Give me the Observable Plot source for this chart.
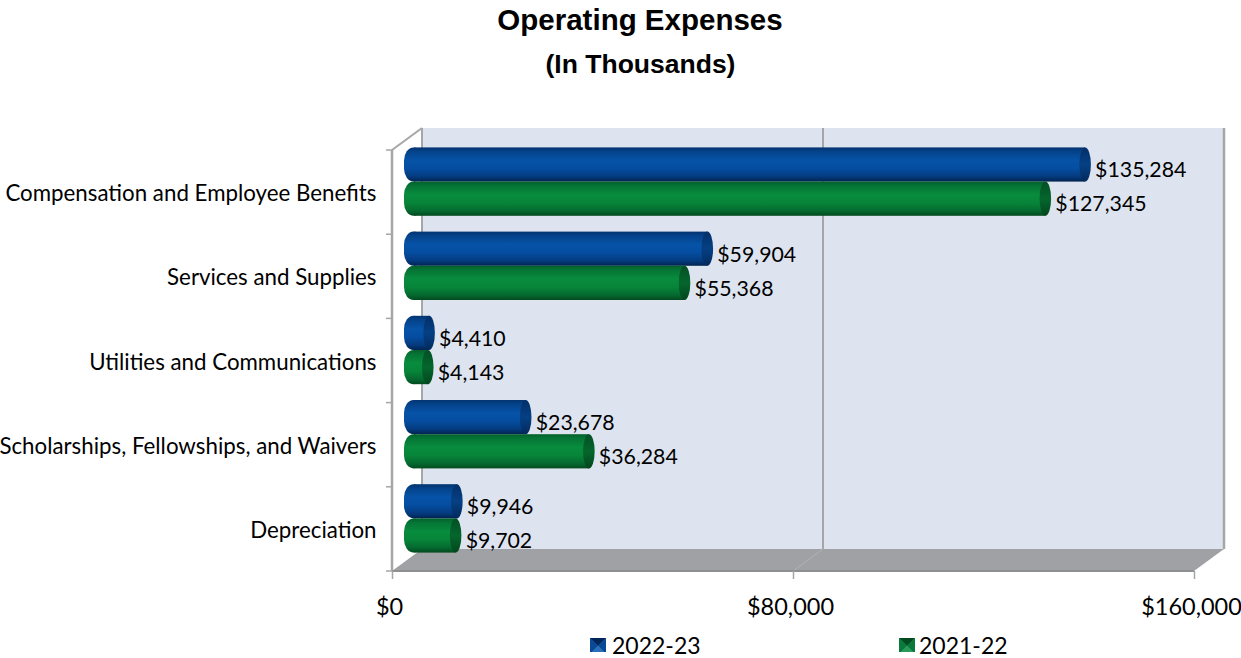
<!DOCTYPE html>
<html>
<head>
<meta charset="utf-8">
<script src="https://cdn.jsdelivr.net/npm/d3@7"></script>
<script src="https://cdn.jsdelivr.net/npm/@observablehq/plot@0.6"></script>
<style>
html,body{margin:0;padding:0;background:#fff;overflow:hidden;}
#page{position:relative;width:1241px;height:658px;overflow:hidden;}
#head{height:100px;position:relative;font-family:"Liberation Sans",Arial,sans-serif;font-weight:bold;text-align:center;color:#000;}
#head .t{position:absolute;left:0;width:1280px;top:4px;font-size:29.5px;line-height:32px;}
#head .s{position:absolute;left:0;width:1281px;top:50px;font-size:26.5px;line-height:28px;}
#chart svg{display:block;}
#legend{position:absolute;top:630px;left:0;width:1241px;height:28px;font-family:Lato,sans-serif;font-size:23px;line-height:28px;color:#000;}
#legend span.k{position:absolute;top:8px;width:16px;height:14px;}
#legend span.l{position:absolute;top:1px;white-space:nowrap;}
</style>
</head>
<body>
<div id="page">
  <div id="head"><div class="t" id="title"></div><div class="s" id="subtitle"></div></div>
  <div id="chart"></div>
  <div id="legend"></div>
</div>
<script>
const titleText = "Operating Expenses";
const subtitleText = "(In Thousands)";
const categories = ["Compensation and Employee Benefits","Services and Supplies","Utilities and Communications","Scholarships, Fellowships, and Waivers","Depreciation"];
const series = ["2022-23","2021-22"];
const values2022 = [135284,59904,4410,23678,9946];
const values2021 = [127345,55368,4143,36284,9702];
const xTicks = [0,80000,160000];

const rows2022 = categories.map((c,i)=>({category:c,series:series[0],value:values2022[i]}));
const rows2021 = categories.map((c,i)=>({category:c,series:series[1],value:values2021[i]}));
const money = d3.format("$,.0f");

document.getElementById("title").textContent = titleText;
document.getElementById("subtitle").textContent = subtitleText;

const gradients = `
<linearGradient id="gBlue" x1="0" y1="0" x2="0" y2="1">
 <stop offset="0" stop-color="#03336f"/><stop offset="0.12" stop-color="#044289"/><stop offset="0.38" stop-color="#0653a8"/><stop offset="0.62" stop-color="#054da0"/><stop offset="0.85" stop-color="#043b7f"/><stop offset="1" stop-color="#02234f"/>
</linearGradient>
<linearGradient id="gGreen" x1="0" y1="0" x2="0" y2="1">
 <stop offset="0" stop-color="#03602c"/><stop offset="0.12" stop-color="#057435"/><stop offset="0.38" stop-color="#088c3d"/><stop offset="0.62" stop-color="#078539"/><stop offset="0.85" stop-color="#056a30"/><stop offset="1" stop-color="#024a1e"/>
</linearGradient>
<linearGradient id="cBlue" x1="0" y1="0" x2="0" y2="1">
 <stop offset="0" stop-color="#032f68"/><stop offset="0.5" stop-color="#054084"/><stop offset="1" stop-color="#032a5c"/>
</linearGradient>
<linearGradient id="cGreen" x1="0" y1="0" x2="0" y2="1">
 <stop offset="0" stop-color="#034f24"/><stop offset="0.5" stop-color="#05662d"/><stop offset="1" stop-color="#02471d"/>
</linearGradient>`;

const NS = "http://www.w3.org/2000/svg";
const DEPTH_X = 30, DEPTH_Y = 22;
const gray = "#a6a6a6";

function chrome(index, scales, values, dims) {
  const g = document.createElementNS(NS,"g");
  const x0 = scales.x(xTicks[0]), xm = scales.x(xTicks[1]), x1 = scales.x(xTicks[2]);
  const top = dims.marginTop, bot = dims.height - dims.marginBottom;
  const step = (bot - top) / categories.length;
  const add = (tag, attrs) => { const e = document.createElementNS(NS,tag); for (const k in attrs) e.setAttribute(k,attrs[k]); g.appendChild(e); return e; };
  add("defs",{}).innerHTML = gradients;
  add("rect",{x:x0+DEPTH_X,y:top-DEPTH_Y,width:x1-x0,height:bot-top,fill:"#dde4ef"});
  add("line",{x1:x0+DEPTH_X,x2:x0+DEPTH_X,y1:top-DEPTH_Y,y2:bot-DEPTH_Y,stroke:gray,"stroke-width":2});
  add("line",{x1:xm+DEPTH_X,x2:xm+DEPTH_X,y1:top-DEPTH_Y,y2:bot-DEPTH_Y,stroke:gray,"stroke-width":2});
  add("line",{x1:x1+DEPTH_X,x2:x1+DEPTH_X,y1:top-DEPTH_Y,y2:bot-DEPTH_Y,stroke:gray,"stroke-width":2.5});
  add("polygon",{points:`${x0},${bot} ${x1},${bot} ${x1+DEPTH_X},${bot-DEPTH_Y} ${x0+DEPTH_X},${bot-DEPTH_Y}`,fill:"#a0a1a4"});
  add("line",{x1:xm,x2:xm+DEPTH_X,y1:bot,y2:bot-DEPTH_Y,stroke:"#b2b3b5","stroke-width":1});
  add("line",{x1:x0,x2:x0,y1:top,y2:bot,stroke:gray,"stroke-width":2.5});
  add("line",{x1:x0,x2:x0+DEPTH_X,y1:top,y2:top-DEPTH_Y,stroke:gray,"stroke-width":2});
  for (let i=0;i<=categories.length;i++) add("line",{x1:x0-6,x2:x0,y1:top+i*step,y2:top+i*step,stroke:gray,"stroke-width":1.5});
  add("line",{x1:x0,x2:x1,y1:bot,y2:bot,stroke:"#8e8f91","stroke-width":2});
  return g;
}

const BAR_DX = 15, CAP_RX = 5.8, BAR_H = 34;
function cylinder(rows, dy, body, cap) {
  return [
    Plot.barX(rows,{x1:()=>0,x2:()=>0,y:"category",dx:BAR_DX,dy,insetLeft:-3,insetRight:-16,rx:10,ry:13,fill:`url(#${body})`}),
    Plot.barX(rows,{x1:()=>0,x2:"value",y:"category",dx:BAR_DX,dy,insetLeft:7,fill:`url(#${body})`}),
    Plot.barX(rows,{x1:"value",x2:"value",y:"category",dx:BAR_DX,dy,insetLeft:-CAP_RX,insetRight:-CAP_RX,rx:CAP_RX,ry:BAR_H/2,fill:`url(#${cap})`})
  ];
}
function valueLabels(rows, dy) {
  return Plot.text(rows,{x:"value",y:"category",text:d=>money(d.value),dx:24.5,dy,textAnchor:"start",fontFamily:"Lato, sans-serif",fontSize:21.3,fill:"#000"});
}

const chart = Plot.plot({
  width:1241, height:520,
  marginTop:50, marginBottom:49, marginLeft:392, marginRight:47,
  style:{fontFamily:"Lato, sans-serif",background:"transparent",overflow:"hidden"},
  x:{domain:[xTicks[0],xTicks[2]],label:null,round:false},
  y:{domain:categories,label:null,paddingInner:0.594,paddingOuter:0.297,round:false},
  marks:[
    chrome,
    ...cylinder(rows2022,-27.6,"gBlue","cBlue"),
    ...cylinder(rows2021,6.6,"gGreen","cGreen"),
    Plot.axisX({ticks:xTicks,tickFormat:null,tickSize:8,stroke:gray,strokeWidth:1.5,text:null,label:null}),
    Plot.axisX({ticks:xTicks,tickFormat:money,tickSize:0,tickPadding:27,fontSize:23.5,fill:"#000",dx:-3,label:null,fontFamily:"Lato, sans-serif"}),
    Plot.axisY({tickSize:0,tickPadding:16,fontSize:22.3,fill:"#000",dy:1.5,label:null,fontFamily:"Lato, sans-serif"}),
    valueLabels(rows2022,-22),
    valueLabels(rows2021,12)
  ]
});
document.getElementById("chart").appendChild(chart);

const legendColors = [["#02265a","#0a4a94","#2a6fb8"],["#024a20","#0a7a3a","#2a9a5a"]];
const legendLeft = [590,899];
const legendBox = document.getElementById("legend");
series.forEach((s,i)=>{
  const k=document.createElement("span");k.className="k";k.style.left=legendLeft[i]+"px";
  const [a,b,c]=legendColors[i];
  k.style.background=`conic-gradient(from -45deg, ${a} 0 25%, ${b} 25% 50%, ${c} 50% 75%, ${b} 75% 100%)`;
  const l=document.createElement("span");l.className="l";l.style.left=(legendLeft[i]+(i?20:22))+"px";l.textContent=s;
  legendBox.append(k,l);
});
</script>
</body>
</html>
